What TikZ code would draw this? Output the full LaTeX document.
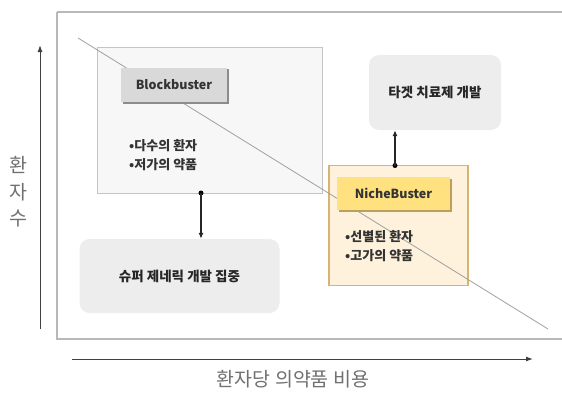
\documentclass[tikz,border=0pt]{standalone}
\usepackage{fontspec}
\setmainfont{Noto Sans CJK KR}
\usetikzlibrary{arrows.meta}
\definecolor{framegray}{HTML}{B8B8B8}
\definecolor{boxline}{HTML}{C4C4C4}
\definecolor{boxfill}{HTML}{F7F7F7}
\definecolor{labfill}{HTML}{D9D9D9}
\definecolor{labshadow}{HTML}{8C8C8C}
\definecolor{nichefill}{HTML}{FEF2DC}
\definecolor{nicheline}{HTML}{D6B574}
\definecolor{nichelab}{HTML}{FFE27F}
\definecolor{nicheshadow}{HTML}{B8A060}
\definecolor{softbox}{HTML}{EDEDED}
\definecolor{axistext}{HTML}{707070}
\definecolor{diag}{HTML}{A0A0A0}
\tikzset{
  bigbox/.style={draw=boxline, line width=1pt, fill=boxfill, inner sep=0pt},
  labelbox/.style={inner sep=0pt, font=\fontsize{12.5}{14}\selectfont\bfseries, text=black!80},
  bullets/.style={inner sep=0pt, align=left, anchor=west, font=\fontsize{13}{18.5}\selectfont\bfseries, text=black!80},
  softnode/.style={fill=softbox, rounded corners=10pt, inner sep=0pt, font=\fontsize{13.5}{16}\selectfont\bfseries, text=black!85},
  conn/.style={line width=1.1pt, black!85, -{Latex[length=6pt,width=5pt]}},
  dot/.style={circle, fill=black, inner sep=0pt, minimum size=5pt},
  axislabel/.style={inner sep=0pt, font=\fontsize{19.5}{22}\selectfont, text=axistext},
  axis/.style={line width=1pt, black!75, -{Latex[length=7pt,width=5pt]}}
}
\begin{document}
\begin{tikzpicture}[x=1pt,y=-1pt]
\useasboundingbox (0,0) rectangle (562,392);
% outer frame
\draw[framegray, line width=1.8pt] (57,12) -- (563,12);
\draw[framegray, line width=1.8pt] (57,12) -- (57,339) -- (563,339);
% big boxes
\node[bigbox, minimum width=225pt, minimum height=146pt] (bbig) at (209.5,120) {};
\node[draw=nicheline, line width=1.3pt, fill=nichefill, inner sep=0pt, minimum width=139pt, minimum height=120pt] (nbig) at (398.5,225.5) {};
% diagonal line
\coordinate (d1) at (78,38);
\coordinate (d2) at (548,329);
\draw[diag, line width=0.8pt] (d1) -- (d2);
% labels with shadows
\fill[labshadow] (123,69) rectangle (229,104);
\node[labelbox, fill=labfill, minimum width=106pt, minimum height=34pt] (blab) at (174,84.5) {Blockbuster};
\fill[nicheshadow] (339,179) rectangle (452,212);
\node[labelbox, fill=nichelab, minimum width=113pt, minimum height=33pt] (nlab) at (393.5,193.5) {NicheBuster};
% bullets
\node[bullets] (btext) at (129,155) {•다수의 환자\\•저가의 약품};
\node[bullets] (ntext) at (345,246) {•선별된 환자\\•고가의 약품};
% soft boxes
\node[softnode, minimum width=200pt, minimum height=74pt] (super) at (179.5,276) {슈퍼 제네릭 개발 집중};
\node[softnode, minimum width=132pt, minimum height=75pt] (target) at (435,92.5) {타겟 치료제 개발};
% connectors
\node[dot] (bdot) at (201,193) {};
\draw[conn] (bdot.center) -- (bdot.center |- super.north);
\node[dot] (ndot) at (395,165.5) {};
\draw[conn] (ndot.center) -- (ndot.center |- target.south);
% axes
\coordinate (yb) at (40,329);
\coordinate (yt) at (40,45);
\draw[axis] (yb) -- (yt);
\coordinate (xl) at (72,359);
\coordinate (xr) at (533,359);
\draw[axis] (xl) -- (xr);
\node[axislabel] (yl1) at (18,165) {환};
\node[axislabel] (yl2) at (18,192) {자};
\node[axislabel] (yl3) at (18,219) {수};
\node[axislabel] (xlab) at (293,379) {환자당 의약품 비용};
\end{tikzpicture}
\end{document}
